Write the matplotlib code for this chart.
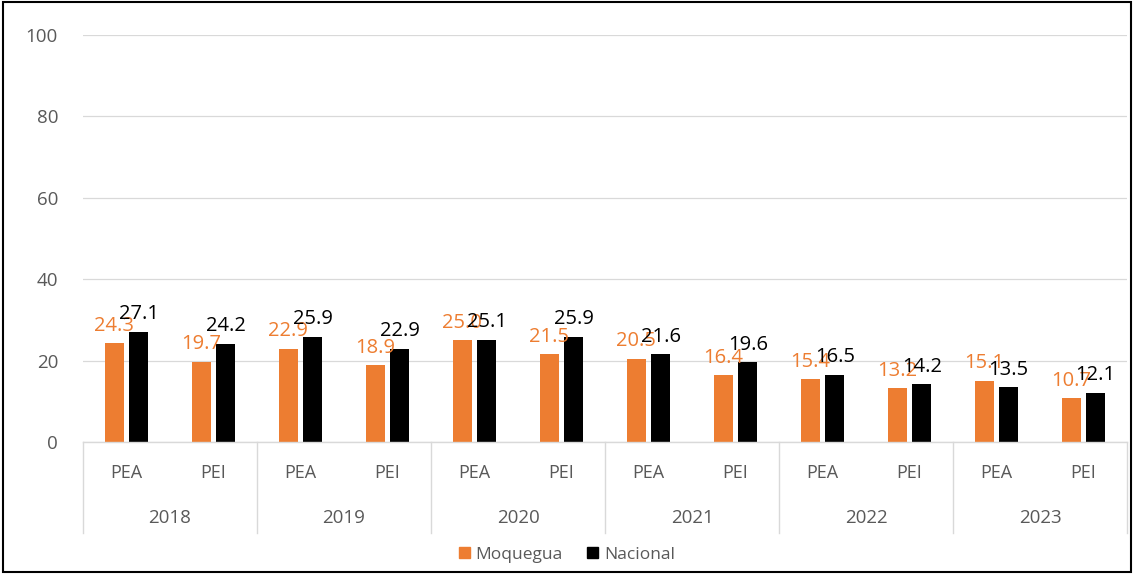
import matplotlib.pyplot as plt
import matplotlib.patches as mpatches
from matplotlib.transforms import blended_transform_factory
import numpy as np

years = ["2018", "2019", "2020", "2021", "2022", "2023"]
groups = ["PEA", "PEI"]
moquegua = [24.3, 19.7, 22.9, 18.9, 25.0, 21.5, 20.5, 16.4, 15.4, 13.2, 15.1, 10.7]
nacional = [27.1, 24.2, 25.9, 22.9, 25.1, 25.9, 21.6, 19.6, 16.5, 14.2, 13.5, 12.1]

orange = "#ED7D31"
grey_txt = "#595959"
line_col = "#D9D9D9"

plt.rcParams["font.family"] = ["Open Sans", "DejaVu Sans"]

fig = plt.figure(figsize=(11.34, 5.74), dpi=100)
left, right, top, bottom = 83, 1127, 35, 442
ax = fig.add_axes([left / 1134, 1 - bottom / 574, (right - left) / 1134, (bottom - top) / 574])

x = np.arange(len(moquegua))
w = 0.225
off = 0.14
ax.bar(x - off, moquegua, w, color=orange, zorder=2)
ax.bar(x + off, nacional, w, color="black", zorder=2)

# data labels (they overlap like in the original)
for i in range(len(x)):
    ax.annotate(f"{moquegua[i]:.1f}", (x[i] - off, moquegua[i]), xytext=(0, 9), textcoords="offset points",
                ha="center", va="baseline", color=orange, fontsize=14.5, zorder=3)
    ax.annotate(f"{nacional[i]:.1f}", (x[i] + off, nacional[i]), xytext=(0, 9), textcoords="offset points",
                ha="center", va="baseline", color="black", fontsize=14.5, zorder=4)

ax.set_xlim(-0.5, len(x) - 0.5)
ax.set_ylim(0, 100)
ax.set_yticks(np.arange(0, 101, 20))
ax.grid(axis="y", color=line_col, linewidth=0.9, zorder=0)
ax.tick_params(axis="y", length=0, labelsize=13.5, labelcolor=grey_txt, pad=18)
ax.set_xticks([])
for s in ax.spines.values():
    s.set_visible(False)

# multi-level category axis
tr = blended_transform_factory(ax.transData, ax.transAxes)
h = bottom - top
ax.plot([-0.5, len(x) - 0.5], [0, 0], transform=tr, color=line_col, lw=1, clip_on=False)
for k in range(len(years) + 1):
    xb = -0.5 + 2 * k
    ax.plot([xb, xb], [0, -91 / h], transform=tr, color=line_col, lw=1, clip_on=False)
for i in range(len(x)):
    ax.text(x[i], -31 / h, groups[i % 2], transform=tr, ha="center", va="center",
            fontsize=13, color=grey_txt)
for k, yr in enumerate(years):
    ax.text(2 * k + 0.5, -76 / h, yr, transform=tr, ha="center", va="center",
            fontsize=13.5, color=grey_txt)

handles = [mpatches.Patch(color=orange), mpatches.Patch(color="black")]
fig.legend(handles, ["Moquegua", "Nacional"], loc="center", bbox_to_anchor=(0.5, 1 - 555 / 574),
           ncol=2, frameon=False, fontsize=12.5, handlelength=0.6, handleheight=0.6,
           handletextpad=0.35, columnspacing=1.4, labelcolor=grey_txt)

# outer frame
fig.patches.append(mpatches.Rectangle((0.003, 0.003), 0.994, 0.994, transform=fig.transFigure,
                                      fill=False, edgecolor="black", linewidth=1.5))

fig.savefig("out.png", dpi=100)
